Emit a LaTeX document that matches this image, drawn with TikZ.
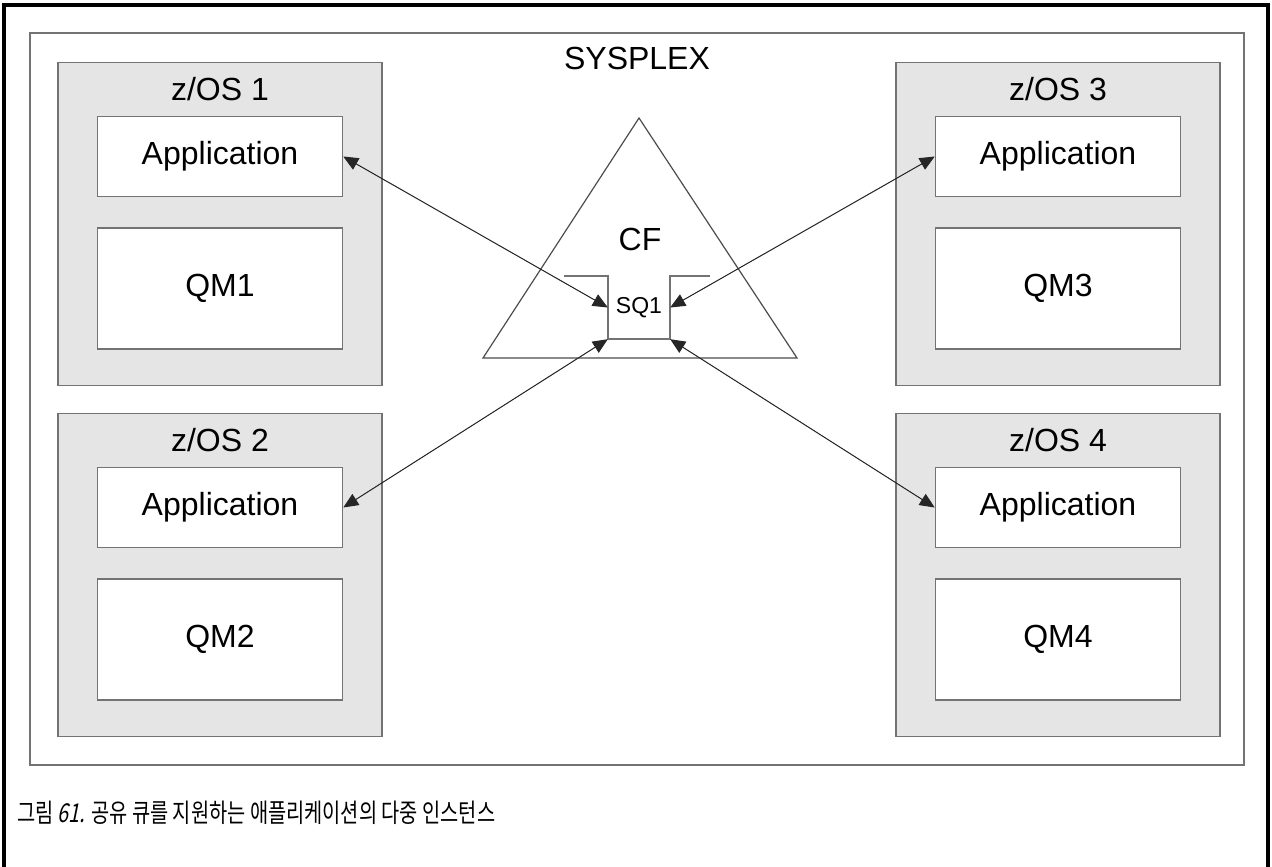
\documentclass[tikz,border=0pt]{standalone}
\usepackage{fontspec}
\setmainfont{Liberation Sans}
\newfontfamily\capfont{Noto Sans CJK KR}[FakeStretch=0.76]
\newfontfamily\capnumfont{Noto Sans CJK KR}[FakeStretch=0.76,FakeSlant=0.2]
\usetikzlibrary{arrows.meta, positioning, calc}
\definecolor{boxgray}{RGB}{229,229,229}
\definecolor{edgegray}{RGB}{115,115,115}

\begin{document}
\begin{tikzpicture}[x=1pt, y=-1pt,
        node distance=30pt,
        zos/.style={rectangle, draw=edgegray, line width=1.5pt, fill=boxgray, minimum width=324pt, minimum height=323pt},
        appbox/.style={rectangle, draw=edgegray, line width=1.5pt, fill=white, minimum width=245pt, minimum height=80pt, inner sep=0pt, font=\fontsize{32}{36}\selectfont},
        qmbox/.style={appbox, minimum height=121pt},
        oslabel/.style={inner sep=0pt, font=\fontsize{32}{36}\selectfont},
        edge/.style={draw=edgegray, line width=1.5pt},
        arrow/.style={{Triangle[length=15pt,width=13pt]}-{Triangle[length=15pt,width=13pt]}, line width=1pt, draw=black!85, fill=black}
    ]
        \useasboundingbox (0,0) rectangle (1272,867);
        \draw[line width=3.5pt] (4,867) -- (4,5) -- (1268,5) -- (1268,867);

        \node[rectangle, edge, minimum width=1214pt, minimum height=732pt] (sysplex) at (637,399) {};
        \node[oslabel, below=15pt of sysplex.north] (sysname) {SYSPLEX};

        % z/OS images
        \node[zos] (zos1) at (220,224) {};
        \node[zos] (zos2) at (220,575) {};
        \node[zos] (zos3) at (1058,224) {};
        \node[zos] (zos4) at (1058,575) {};

        \node[appbox, below=54pt of zos1.north] (app1) {Application};
        \node[qmbox, below=of app1] (qm1) {QM1};
        \node[oslabel, above=15pt of app1] (os1) {z/OS 1};

        \node[appbox, below=54pt of zos2.north] (app2) {Application};
        \node[qmbox, below=of app2] (qm2) {QM2};
        \node[oslabel, above=15pt of app2] (os2) {z/OS 2};

        \node[appbox, below=54pt of zos3.north] (app3) {Application};
        \node[qmbox, below=of app3] (qm3) {QM3};
        \node[oslabel, above=15pt of app3] (os3) {z/OS 3};

        \node[appbox, below=54pt of zos4.north] (app4) {Application};
        \node[qmbox, below=of app4] (qm4) {QM4};
        \node[oslabel, above=15pt of app4] (os4) {z/OS 4};

        % coupling facility
        \coordinate (cftop) at (639,118);
        \coordinate (cfleft) at (483,358);
        \coordinate (cfright) at (797,358);
        \draw[draw=black!70, line width=1.2pt] (cftop) -- (cfleft) -- (cfright) -- cycle;
        \node[oslabel] (cf) at (640,239) {CF};
        \node[inner sep=0pt, minimum width=62pt, minimum height=63pt, font=\fontsize{23}{26}\selectfont] (sq) at (639,307.5) {SQ1};
        \draw[edge] ($(sq.north west)+(-44,0)$) -- (sq.north west) -- (sq.south west) -- (sq.south east) -- (sq.north east) -- ($(sq.north east)+(40,0)$);

        \draw[arrow] (app1.east) -- (sq.west);
        \draw[arrow] (app3.west) -- (sq.east);
        \draw[arrow] (app2.east) -- (sq.south west);
        \draw[arrow] (app4.west) -- (sq.south east);

        \node[anchor=west, inner sep=0pt, font=\capfont\fontsize{26}{30}\selectfont] (caption) at (17,813) {그림 {\capnumfont 61.} 공유 큐를 지원하는 애플리케이션의 다중 인스턴스};
    \end{tikzpicture}
\end{document}
